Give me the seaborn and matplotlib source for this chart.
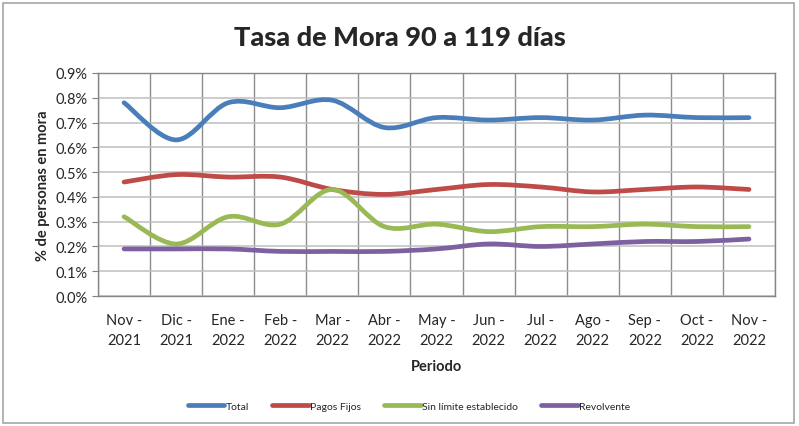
import numpy as np
import pandas as pd
import matplotlib
matplotlib.use('Agg')
import matplotlib.pyplot as plt
import seaborn as sns
from matplotlib.path import Path
from matplotlib.patches import PathPatch, Rectangle
from matplotlib.ticker import FixedLocator, PercentFormatter

# ── data (% de personas en mora) ───────────────────────────────
periodos = ['Nov -\n2021', 'Dic -\n2021', 'Ene -\n2022', 'Feb -\n2022', 'Mar -\n2022',
            'Abr -\n2022', 'May -\n2022', 'Jun -\n2022', 'Jul -\n2022', 'Ago -\n2022',
            'Sep -\n2022', 'Oct -\n2022', 'Nov -\n2022']
total = [0.78, 0.63, 0.78, 0.76, 0.79, 0.68, 0.72, 0.71, 0.72, 0.71, 0.73, 0.72, 0.72]
pagos_fijos = [0.46, 0.49, 0.48, 0.48, 0.43, 0.41, 0.43, 0.45, 0.44, 0.42, 0.43, 0.44, 0.43]
sin_limite = [0.32, 0.21, 0.32, 0.29, 0.43, 0.28, 0.29, 0.26, 0.28, 0.28, 0.29, 0.28, 0.28]
revolvente = [0.19, 0.19, 0.19, 0.18, 0.18, 0.18, 0.19, 0.21, 0.20, 0.21, 0.22, 0.22, 0.23]

series = ['Total', 'Pagos Fijos', 'Sin límite establecido', 'Revolvente']
colores = ['#4A7EBB', '#BE4B48', '#98B954', '#7D60A0']

df = pd.DataFrame({'Total': total, 'Pagos Fijos': pagos_fijos,
                   'Sin límite establecido': sin_limite, 'Revolvente': revolvente})
df['idx'] = range(len(periodos))
long = df.melt(id_vars='idx', var_name='Serie', value_name='Tasa')

sns.set_style('white')
plt.rcParams['font.family'] = ['Lato', 'DejaVu Sans']

fig = plt.figure(figsize=(7.99, 4.27), dpi=100)
ax = fig.add_axes([0.1227, 0.3044, 0.8473, 0.5223])

sns.lineplot(data=long, x='idx', y='Tasa', hue='Serie', hue_order=series,
             palette=colores, linewidth=3.4, ax=ax, legend=True)


# Excel-style smoothing: swap each straight polyline for a bezier through the same points
def smooth_path(xs, ys):
    pts = np.column_stack([xs, ys])
    verts = [pts[0]]
    codes = [Path.MOVETO]
    n = len(pts)
    for i in range(n - 1):
        p0 = pts[max(i - 1, 0)]
        p1 = pts[i]
        p2 = pts[i + 1]
        p3 = pts[min(i + 2, n - 1)]
        c1 = p1 + (p2 - p0) / 6.0
        c2 = p2 - (p3 - p1) / 6.0
        verts += [c1, c2, p2]
        codes += [Path.CURVE4] * 3
    return Path(verts, codes)


for line in list(ax.lines):
    xs, ys = line.get_xdata(), line.get_ydata()
    if len(xs) < 2:
        continue
    ax.add_patch(PathPatch(smooth_path(np.asarray(xs, float), np.asarray(ys, float)),
                           facecolor='none', edgecolor=line.get_color(),
                           lw=line.get_linewidth(), capstyle='round', joinstyle='round',
                           zorder=3))
    line.set_visible(False)

# axes
ax.set_xlim(-0.5, len(periodos) - 0.5)
ax.set_ylim(0, 0.9)
ax.yaxis.set_major_locator(FixedLocator(np.arange(0, 0.91, 0.1)))
ax.yaxis.set_major_formatter(PercentFormatter(decimals=1))
ax.set_xticks(range(len(periodos)))
ax.set_xticklabels(periodos, fontsize=10.5, linespacing=1.55)
ax.xaxis.set_minor_locator(FixedLocator(np.arange(-0.5, len(periodos), 1.0)))
ax.tick_params(axis='x', which='major', length=0, pad=12)
ax.tick_params(axis='x', which='minor', length=4, color='#808080')
ax.tick_params(axis='y', labelsize=10.5, length=4, color='#808080', left=True)
ax.grid(True, axis='y', which='major', color='#BFBFBF', lw=1.1)
ax.grid(True, axis='x', which='minor', color='#8C8C8C', lw=1.0)
ax.set_axisbelow(True)
for s in ax.spines.values():
    s.set_color('#868686')
    s.set_linewidth(1.0)

ax.set_xlabel('Periodo', fontsize=10.5, fontweight='bold', labelpad=9)
ax.set_ylabel('% de personas en mora', fontsize=10.5, fontweight='bold', labelpad=4)

fig.text(0.5, 0.91, 'Tasa de Mora 90 a 119 días', ha='center', va='center',
         fontsize=19.5, fontweight='black')

handles, labels = ax.get_legend_handles_labels()
ax.legend(handles, labels, loc='center', bbox_to_anchor=(0.512, 0.047),
          bbox_transform=fig.transFigure, ncol=4, frameon=False, fontsize=7.5,
          handlelength=3.5, handletextpad=0.15, columnspacing=2.2)

# outer chart border
fig.patches.append(Rectangle((0.004, 0.007), 0.99, 0.984, transform=fig.transFigure,
                             fill=False, edgecolor='#A6A6A6', lw=1.2))

fig.savefig('out.png', dpi=100)
